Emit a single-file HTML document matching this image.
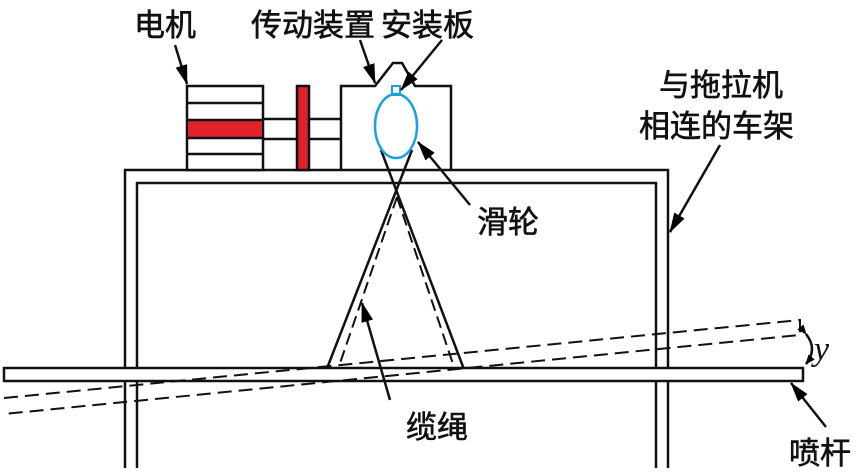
<!DOCTYPE html>
<html><head><style>body{margin:0;background:#fff}svg{display:block}</style></head><body>
<svg width="863" height="475" viewBox="0 0 863 475" xmlns="http://www.w3.org/2000/svg" font-family="'Liberation Sans','Noto Sans CJK SC',sans-serif">
<defs><marker id="a" markerWidth="10" markerHeight="8" refX="9" refY="4" orient="auto" markerUnits="userSpaceOnUse"><path d="M0,0L10,4L0,8z" fill="#000"/></marker>
<marker id="b" viewBox="0 0 20 12" markerWidth="20" markerHeight="12" refX="19" refY="6" orient="auto" markerUnits="userSpaceOnUse"><path d="M0,0L20,6L0,12z" fill="#000"/></marker></defs>
<g stroke="#111" stroke-width="2.5" fill="none">
<path d="M125,468V170H668V468M137,468V183H656V468"/>
<rect x="187" y="86" width="76" height="84" fill="#fff"/>
<rect x="188" y="120" width="74" height="18" fill="#e0202a" stroke="none"/>
<path d="M187,103H263M187,120H263M187,138H263M187,154H263M263,119H341M263,139H341"/>
<rect x="297" y="86" width="12" height="84" fill="#e0202a"/>
<path d="M341,170V86H375L393,63H402L415,86H451V170"/>
<path d="M381,150L465,372M412,150L324,376"/>
<path d="M397,197L337,372M397,197L455,370M324,376L466,371" stroke-dasharray="12,6" stroke-width="2"/>
<rect x="4" y="368" width="799" height="13" fill="#fff"/>
<path d="M4,398L800,320V335L4,414" stroke-dasharray="14,7" stroke-width="2"/>
</g>
<rect x="392" y="86" width="8" height="9" fill="#fff" stroke="#1aa0dc" stroke-width="2"/>
<ellipse cx="396" cy="126" rx="21" ry="32" fill="none" stroke="#1aa0dc" stroke-width="2.5"/>
<g stroke="#111" stroke-width="2.5" fill="none">
<path d="M175,45L187,84" marker-end="url(#b)"/>
<path d="M360,40L375,83" marker-end="url(#b)"/>
<path d="M442,40L401,90" marker-end="url(#b)"/>
<path d="M470,205L418,142" marker-end="url(#b)"/>
<path d="M720,145L670,232" marker-end="url(#b)"/>
<path d="M390,400L362,303" marker-end="url(#b)"/>
<path d="M826,427L791,383" marker-end="url(#b)"/>
<path d="M806,334Q818,349 806,364" marker-start="url(#a)" marker-end="url(#a)" stroke-width="2.5"/>
</g>
<g font-size="31" fill="#111" stroke="#111" stroke-width="0.6">
<text x="134" y="36">电机</text>
<text x="251" y="36">传动装置</text>
<text x="381" y="36">安装板</text>
<text x="659" y="96">与拖拉机</text>
<text x="639" y="137">相连的车架</text>
<text x="477" y="233">滑轮</text>
<text x="406" y="438">缆绳</text>
<text x="789" y="464">喷杆</text>
<text x="814" y="360" font-size="34" stroke-width="0" font-style="italic" font-family="'Liberation Serif',serif">y</text>
</g>
</svg>
</body></html>
